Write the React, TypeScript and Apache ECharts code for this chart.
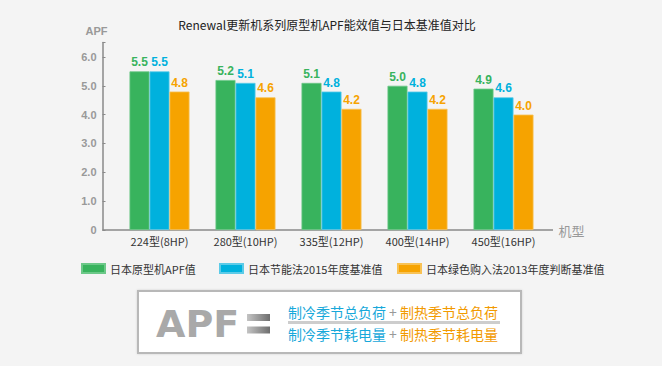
import React, { useEffect, useRef } from "react";
import * as echarts from "echarts";

const categories = ["224型(8HP)", "280型(10HP)", "335型(12HP)", "400型(14HP)", "450型(16HP)"];
const seriesNames = ["日本原型机APF值", "日本节能法2015年度基准值", "日本绿色购入法2013年度判断基准值"];
const prototypeAPF = [5.5, 5.2, 5.1, 5.0, 4.9];
const standard2015 = [5.5, 5.1, 4.8, 4.8, 4.6];
const green2013 = [4.8, 4.6, 4.2, 4.2, 4.0];
const yTicks = [0, 1, 2, 3, 4, 5, 6];

const GREEN = "#38b35d";
const BLUE = "#00b1dd";
const ORANGE = "#f6a300";

export default function App() {
  const ref = useRef<HTMLDivElement>(null);
  useEffect(() => {
    document.body.style.margin = "0";
    const chart = echarts.init(ref.current!, null, { renderer: "svg" });
    const colors = [GREEN, BLUE, ORANGE];
    const borders = ["#6cc888", "#5ccbe8", "#f8c255"];
    const datas = [prototypeAPF, standard2015, green2013];
    const legendLefts = [76, 214, 392];
    const eqGrad = () =>
      new echarts.graphic.LinearGradient(0, 0, 1, 0, [
        { offset: 0, color: "#c4c4c4" },
        { offset: 1, color: "#6e6e6e" },
      ]);
    chart.setOption({
      animation: false,
      backgroundColor: "#f4f4f4",
      title: {
        text: "Renewal更新机系列原型机APF能效值与日本基准值对比",
        left: 322,
        textAlign: "center",
        top: 13,
        textStyle: { fontSize: 12, fontWeight: "normal", color: "#222", fontFamily: "Noto Sans CJK SC" },
      },
      legend: seriesNames.map((n, i) => ({
        data: [n],
        left: legendLefts[i],
        top: 258,
        itemWidth: 23,
        itemHeight: 9,
        itemGap: 6,
        icon: "rect",
        textStyle: { fontSize: 11, color: "#333", fontFamily: "Noto Sans CJK SC" },
      })),
      grid: { left: 116.5, right: 115.5, top: 42.5, bottom: 136 },
      xAxis: {
        type: "category",
        data: categories,
        name: "机型",
        nameLocation: "end",
        nameGap: 12,
        nameTextStyle: { color: "#999", fontSize: 13, fontFamily: "Noto Sans CJK SC", verticalAlign: "middle" },
        axisLine: { show: false },
        axisTick: { show: false },
        axisLabel: { color: "#333", fontSize: 11, margin: 5, fontFamily: "Noto Sans CJK SC" },
      },
      yAxis: {
        type: "value",
        min: 0,
        max: 6.5,
        interval: 1,
        offset: 14,
        name: "APF",
        nameGap: 6,
        nameTextStyle: { color: "#999", fontSize: 11, fontWeight: "bold", fontFamily: "Liberation Sans", align: "right", padding: [0, -5, 0, 0] },
        axisLine: { show: true, lineStyle: { color: "#8a8a8a", width: 1.5 } },
        axisTick: { show: true, inside: true, length: 3, lineStyle: { color: "#8a8a8a" } },
        splitLine: { show: false },
        axisLabel: {
          color: "#999",
          fontSize: 11,
          fontWeight: "bold",
          fontFamily: "Liberation Sans",
          margin: 6,
          formatter: (v: number) => (v === 0 ? "0" : yTicks.includes(v) ? v.toFixed(1) : ""),
        },
      },
      series: seriesNames.map((n, i) => ({
        name: n,
        type: "bar",
        data: datas[i],
        barWidth: 20,
        barGap: "0%",
        itemStyle: { color: colors[i], borderColor: borders[i], borderWidth: 0.8 },
        label: {
          show: true,
          position: "top",
          distance: 3,
          color: colors[i],
          fontSize: 12,
          fontWeight: "bold",
          fontFamily: "Liberation Sans",
          formatter: (p: any) => p.value.toFixed(1),
        },
      })),
      graphic: [
        {
          type: "line",
          shape: { x1: 102.5, y1: 230, x2: 553, y2: 230 },
          style: { stroke: "#8a8a8a", lineWidth: 1.5 },
        },
        {
          type: "rect",
          shape: { x: 138, y: 291, width: 383, height: 62 },
          style: { fill: "#ffffff", stroke: "#b8b8b8", lineWidth: 2, shadowBlur: 2, shadowColor: "rgba(0,0,0,0.15)" },
        },
        {
          type: "text",
          x: 156,
          y: 324,
          style: {
            text: "APF",
            font: "bold 38px 'DejaVu Sans'",
            verticalAlign: "middle",
            fill: "#a9a9a9",
          },
        },
        {
          type: "rect",
          shape: { x: 247, y: 314, width: 23, height: 7 },
          style: { fill: eqGrad() },
        },
        {
          type: "rect",
          shape: { x: 247, y: 326.5, width: 23, height: 7 },
          style: { fill: eqGrad() },
        },
        {
          type: "line",
          shape: { x1: 288, y1: 322.5, x2: 500, y2: 322.5 },
          style: { stroke: "#cdcdcd", lineWidth: 3 },
        },
        {
          type: "text",
          x: 288,
          y: 312,
          style: {
            text: "{b|制冷季节总负荷}{p| + }{o|制热季节总负荷}",
            verticalAlign: "middle",
            rich: {
              b: { fill: "#17a8da", fontSize: 14, fontFamily: "Noto Sans CJK SC" },
              p: { fill: "#999", fontSize: 14, fontFamily: "Noto Sans CJK SC" },
              o: { fill: "#f29a00", fontSize: 14, fontFamily: "Noto Sans CJK SC" },
            },
          },
        },
        {
          type: "text",
          x: 288,
          y: 334,
          style: {
            text: "{b|制冷季节耗电量}{p| + }{o|制热季节耗电量}",
            verticalAlign: "middle",
            rich: {
              b: { fill: "#17a8da", fontSize: 14, fontFamily: "Noto Sans CJK SC" },
              p: { fill: "#999", fontSize: 14, fontFamily: "Noto Sans CJK SC" },
              o: { fill: "#f29a00", fontSize: 14, fontFamily: "Noto Sans CJK SC" },
            },
          },
        },
      ],
    });
    return () => chart.dispose();
  }, []);
  return <div ref={ref} style={{ width: 662, height: 366 }} />;
}
